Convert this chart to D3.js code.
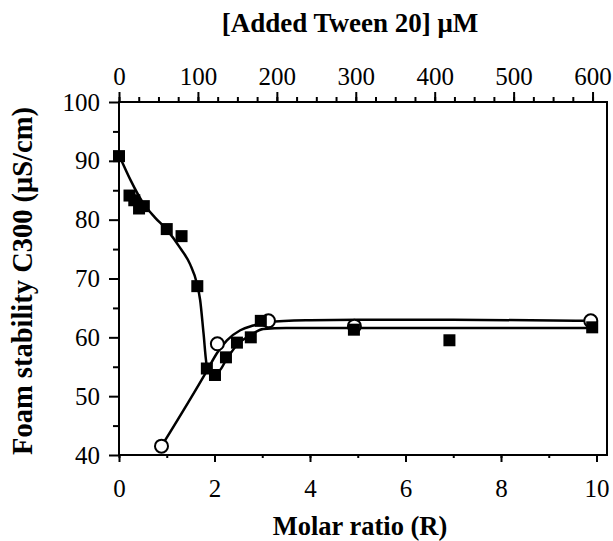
<!DOCTYPE html>
<head>
<meta charset="utf-8">
<style>
body { margin: 0; background: #fff; }
svg { display: block; }
.tick text { font-family: "Liberation Serif", "Times New Roman", serif; font-size: 25px; fill: #000; }
.title { font-family: "Liberation Serif", "Times New Roman", serif; font-weight: bold; }
.domain { display: none; }
</style>
</head>
<body>
<svg width="613" height="541"></svg>
<script src="https://cdnjs.cloudflare.com/ajax/libs/d3/7.8.5/d3.min.js"></script>
<script>

// filled squares
var sqR   = [0, 0.22, 0.32, 0.42, 0.52, 1.0, 1.31, 1.64, 1.84, 2.01, 2.24, 2.47, 2.76, 2.97, 4.92, 6.92, 9.91];
var sqVal = [90.8, 84.1, 83.3, 81.9, 82.3, 78.4, 77.2, 68.7, 54.7, 53.6, 56.6, 59.1, 60.0, 62.8, 61.3, 59.5, 61.7];
// open circles
var ciR   = [0.89, 2.06, 3.13, 4.93, 9.88];
var ciVal = [41.5, 58.9, 62.8, 61.9, 62.8];
// fitted curves
var sqFitR   = [0, 0.25, 0.5, 0.75, 1.0, 1.28, 1.49, 1.63, 1.70, 1.77, 1.84, 1.95, 2.1, 2.24, 2.47, 2.76, 3.02, 3.5, 5, 7, 9.9];
var sqFitVal = [91, 86.6, 82.9, 80.4, 78.3, 75.2, 72.4, 69.2, 66.3, 60.7, 55.2, 53.9, 54.3, 56.1, 58.7, 60.4, 61.4, 61.6, 61.6, 61.6, 61.6];
var ciFitR   = [0.89, 1.84, 2.05, 2.26, 2.54, 2.81, 3.12, 4, 5, 7, 9.88];
var ciFitVal = [41.5, 54.3, 57.3, 59.5, 61.2, 62.0, 62.6, 62.9, 63.0, 63.0, 62.8];

var bottomTicks = [0, 2, 4, 6, 8, 10];
var topTicks = [0, 100, 200, 300, 400, 500, 600];
var leftTicks = [40, 50, 60, 70, 80, 90, 100];

var UM_PER_R = 60.5, xMax = 10.22;

var svg = d3.select("svg"),
    pLeft = 119, pRight = 607, pTop = 102, pBottom = 455;

var x = d3.scaleLinear().domain([0, xMax]).range([pLeft, pRight]);
var xTop = d3.scaleLinear().domain([0, xMax * UM_PER_R]).range([pLeft, pRight]);
var y = d3.scaleLinear().domain([40, 100]).range([pBottom, pTop]);

// frame
svg.append("rect")
    .attr("x", pLeft).attr("y", pTop)
    .attr("width", pRight - pLeft).attr("height", pBottom - pTop)
    .attr("fill", "none").attr("stroke", "#000").attr("stroke-width", 2);

// bottom axis
svg.append("g").attr("transform", "translate(0," + pBottom + ")")
    .call(d3.axisBottom(x).tickValues(d3.range(0, 11, 1)).tickSize(3).tickFormat(""))
    .selectAll("line").attr("stroke-width", 2);
svg.append("g").attr("transform", "translate(0," + pBottom + ")")
    .call(d3.axisBottom(x).tickValues(bottomTicks).tickSize(7).tickPadding(17).tickFormat(d3.format("d")))
    .selectAll("line").attr("stroke-width", 2);

// top axis
svg.append("g").attr("transform", "translate(0," + pTop + ")")
    .call(d3.axisTop(xTop).tickValues(d3.range(0, 601, 25)).tickSize(5).tickFormat(""))
    .selectAll("line").attr("stroke-width", 2);
svg.append("g").attr("transform", "translate(0," + pTop + ")")
    .call(d3.axisTop(xTop).tickValues(topTicks).tickSize(10).tickPadding(7).tickFormat(d3.format("d")))
    .selectAll("line").attr("stroke-width", 2);

// left axis
svg.append("g").attr("transform", "translate(" + pLeft + ",0)")
    .call(d3.axisLeft(y).tickValues(d3.range(45, 100, 10)).tickSize(6).tickFormat(""))
    .selectAll("line").attr("stroke-width", 2);
svg.append("g").attr("transform", "translate(" + pLeft + ",0)")
    .call(d3.axisLeft(y).tickValues(leftTicks).tickSize(10).tickPadding(9).tickFormat(d3.format("d")))
    .selectAll("line").attr("stroke-width", 2);

// curves
var line = d3.line()
    .x(function(d) { return x(d[0]); })
    .y(function(d) { return y(d[1]); })
    .curve(d3.curveMonotoneX);

svg.append("path").datum(d3.zip(ciFitR, ciFitVal))
    .attr("d", line).attr("fill", "none").attr("stroke", "#000").attr("stroke-width", 2.5);
svg.append("path").datum(d3.zip(sqFitR, sqFitVal))
    .attr("d", line).attr("fill", "none").attr("stroke", "#000").attr("stroke-width", 2.5);

// open circles
svg.selectAll("circle.open").data(d3.zip(ciR, ciVal)).enter().append("circle")
    .attr("class", "open")
    .attr("cx", function(d) { return x(d[0]); })
    .attr("cy", function(d) { return y(d[1]); })
    .attr("r", 6.5)
    .attr("fill", "#fff").attr("stroke", "#000").attr("stroke-width", 2);

// filled squares
svg.selectAll("rect.sq").data(d3.zip(sqR, sqVal)).enter().append("rect")
    .attr("class", "sq")
    .attr("x", function(d) { return x(d[0]) - 6; })
    .attr("y", function(d) { return y(d[1]) - 6; })
    .attr("width", 12).attr("height", 12)
    .attr("fill", "#000");

// titles
svg.append("text").attr("class", "title")
    .attr("x", 350).attr("y", 32).attr("text-anchor", "middle")
    .style("font-size", "27px")
    .text("[Added Tween 20] \u03bcM");
svg.append("text").attr("class", "title")
    .attr("x", 360).attr("y", 535).attr("text-anchor", "middle")
    .style("font-size", "26.5px")
    .text("Molar ratio (R)");
svg.append("text").attr("class", "title")
    .attr("transform", "translate(32,281) rotate(-90)")
    .attr("text-anchor", "middle")
    .style("font-size", "28.5px")
    .text("Foam stability C300 (\u03bcS/cm)");

</script>
</body>
